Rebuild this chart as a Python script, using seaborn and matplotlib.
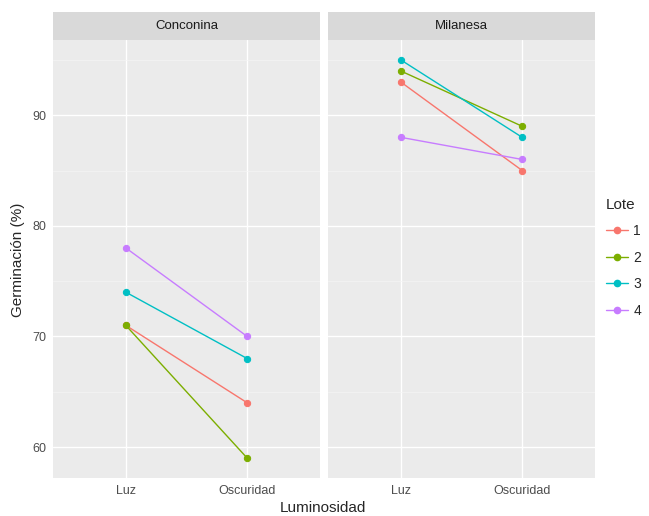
import numpy as np
import pandas as pd
import seaborn as sns
import matplotlib
matplotlib.use('Agg')
from matplotlib import pyplot as plt
from matplotlib.lines import Line2D
from matplotlib.ticker import MultipleLocator

# data
variedades = ['Conconina', 'Milanesa']
luminosidad = ['Luz', 'Oscuridad']
lotes = ['1', '2', '3', '4']
conconina_luz = [71, 71, 74, 78]
conconina_osc = [64, 59, 68, 70]
milanesa_luz = [93, 94, 95, 88]
milanesa_osc = [85, 89, 88, 86]
colores = ['#F8766D', '#7CAE00', '#00BFC4', '#C77CFF']

valores = {
    'Conconina': (conconina_luz, conconina_osc),
    'Milanesa': (milanesa_luz, milanesa_osc),
}
rows = []
for var in variedades:
    luz, osc = valores[var]
    for lote, a, b in zip(lotes, luz, osc):
        rows.append({'Variedad': var, 'Luminosidad': 'Luz', 'Lote': lote, 'Germinacion': a})
        rows.append({'Variedad': var, 'Luminosidad': 'Oscuridad', 'Lote': lote, 'Germinacion': b})
df = pd.DataFrame(rows)

sns.set_theme(style='darkgrid', rc={'axes.facecolor': '#EBEBEB'})
plt.rcParams['font.family'] = ['Liberation Sans', 'DejaVu Sans']

W, H = 649, 516
fig = plt.figure(figsize=(W / 100, H / 100), dpi=100)
fig.patch.set_facecolor('white')

panels = [(53, 320), (328, 595)]
top, bottom = 40, 478
strip_h = 28

for (x0, x1), var in zip(panels, variedades):
    ax = fig.add_axes([x0 / W, 1 - bottom / H, (x1 - x0) / W, (bottom - top) / H])
    sub = df[df['Variedad'] == var]
    sns.pointplot(data=sub, x='Luminosidad', y='Germinacion', hue='Lote',
                  order=luminosidad, hue_order=lotes, palette=colores,
                  errorbar=None, markers='o', markersize=4.5, linewidth=1.0,
                  legend=False, ax=ax)
    ax.set_facecolor('#EBEBEB')
    ax.set_xlim(-0.6, 1.6)
    ax.set_ylim(57.2, 96.8)
    ax.yaxis.set_major_locator(MultipleLocator(10))
    ax.yaxis.set_minor_locator(MultipleLocator(5))
    ax.grid(True, which='major', color='white', linewidth=1.0)
    ax.grid(True, which='minor', axis='y', color='#F5F5F5', linewidth=0.5)
    ax.set_axisbelow(True)
    for s in ax.spines.values():
        s.set_visible(False)
    ax.set_xlabel('')
    ax.set_ylabel('')
    ax.tick_params(axis='both', which='major', length=3, width=0.8, color='#4D4D4D',
                   labelcolor='#4D4D4D', labelsize=9, pad=2, direction='out')
    ax.tick_params(axis='y', which='minor', length=0)
    if var != variedades[0]:
        ax.tick_params(axis='y', which='both', left=False, labelleft=False)
    # strip
    sax = fig.add_axes([x0 / W, 1 - top / H, (x1 - x0) / W, strip_h / H])
    sax.set_facecolor('#D9D9D9')
    sax.set_xticks([])
    sax.set_yticks([])
    for s in sax.spines.values():
        s.set_visible(False)
    sax.text(0.5, 0.5, var, ha='center', va='center', fontsize=9.5, color='#1A1A1A')

fig.text(323 / W, 1 - 508 / H, 'Luminosidad', ha='center', va='center', fontsize=11)
fig.text(18 / W, 1 - 260 / H, 'Germinación (%)', ha='center', va='center',
         rotation=90, fontsize=11)

handles = [Line2D([0], [0], color=c, marker='o', markersize=4.5, linewidth=1.0)
           for c in colores]
leg = fig.legend(handles, lotes, title='Lote', loc='upper left',
                 bbox_to_anchor=(600 / W, 1 - 192 / H), frameon=False,
                 fontsize=10, title_fontsize=11, handlelength=1.6,
                 labelspacing=0.9, handletextpad=0.4, borderaxespad=0)
leg._legend_box.align = 'left'

fig.savefig('out.png', dpi=100)
